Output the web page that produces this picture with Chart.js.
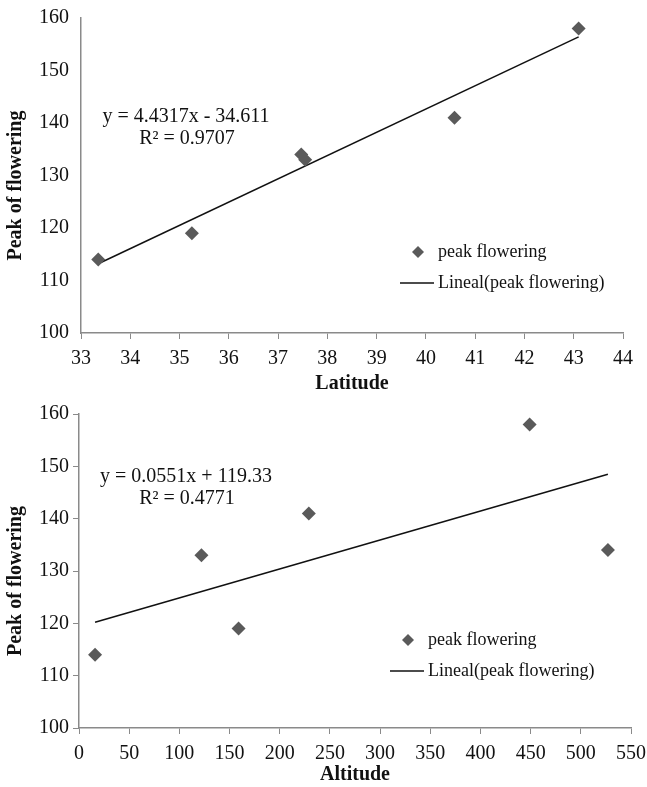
<!DOCTYPE html>
<html>
<head>
<meta charset="utf-8">
<script src="https://cdn.jsdelivr.net/npm/chart.js@4/dist/chart.umd.min.js"></script>
<style>
  body { margin: 0; background: #fff; }
  canvas { display: block; }
</style>
</head>
<body>
<canvas id="graficoLatitud" width="647" height="396"></canvas>
<canvas id="graficoAltitud" width="647" height="391"></canvas>
<script>
// Datos
const latitud = [33.35, 35.25, 37.47, 37.55, 40.58, 43.1];
const altitud = [16, 122, 159, 229, 449, 527];
const picoFloracion = [114, 119, 134, 133, 141, 158];
const picoFloracionAlt = [114, 133, 119, 141, 158, 134];

// Extremos de las lineas de tendencia
const tendLatX = [33.35, 43.1];
const tendLatY = [113.2, 156.4];
const tendAltX = [16, 527];
const tendAltY = [120.2, 148.5];

const ecuacionLat = ['y = 4.4317x - 34.611', 'R\u00B2 = 0.9707'];
const ecuacionAlt = ['y = 0.0551x + 119.33', 'R\u00B2 = 0.4771'];

const nombreSerie = 'peak flowering';
const nombreTend = 'Lineal(peak flowering)';

const FUENTE = '"Liberation Serif", "Times New Roman", serif';
const GRIS_EJE = '#8a8a8a';
const GRIS_PUNTO = '#5a5a5a';

function puntos(xs, ys) {
    return xs.map((x, i) => ({ x: x, y: ys[i] }));
}

// Texto de la ecuacion y leyenda dibujados a mano
function pluginTextos(ecuacion, posEc, posLeyenda) {
    return {
        id: 'textos',
        afterDraw(chart) {
            const ctx = chart.ctx;
            ctx.save();
            ctx.fillStyle = '#111';
            ctx.textBaseline = 'middle';
            ctx.textAlign = 'center';
            ctx.font = '20px ' + FUENTE;
            ctx.fillText(ecuacion[0], posEc[0], posEc[1]);
            ctx.fillText(ecuacion[1], posEc[2], posEc[3]);

            // leyenda
            const lx = posLeyenda[0], ly = posLeyenda[1];
            ctx.fillStyle = GRIS_PUNTO;
            ctx.beginPath();
            ctx.moveTo(lx, ly - 6);
            ctx.lineTo(lx + 6, ly);
            ctx.lineTo(lx, ly + 6);
            ctx.lineTo(lx - 6, ly);
            ctx.closePath();
            ctx.fill();
            ctx.strokeStyle = '#111';
            ctx.lineWidth = 1.5;
            ctx.beginPath();
            ctx.moveTo(lx - 18, ly + 31);
            ctx.lineTo(lx + 16, ly + 31);
            ctx.stroke();
            ctx.fillStyle = '#111';
            ctx.textAlign = 'left';
            ctx.font = '18px ' + FUENTE;
            ctx.fillText(nombreSerie, lx + 20, ly);
            ctx.fillText(nombreTend, lx + 20, ly + 31);
            ctx.restore();
        }
    };
}

function crearGrafico(id, datos, tendencia, cfg) {
    return new Chart(document.getElementById(id), {
        type: 'scatter',
        data: {
            datasets: [{
                label: nombreSerie,
                data: datos,
                pointStyle: 'rectRot',
                pointRadius: 7,
                backgroundColor: GRIS_PUNTO,
                borderColor: GRIS_PUNTO,
                borderWidth: 0
            }, {
                label: nombreTend,
                type: 'line',
                data: tendencia,
                borderColor: '#111',
                borderWidth: 1.5,
                pointRadius: 0,
                fill: false
            }]
        },
        options: {
            responsive: false,
            animation: false,
            layout: { padding: { left: 0, right: cfg.derecha, top: 18, bottom: 0 } },
            plugins: { legend: { display: false }, tooltip: { enabled: false } },
            scales: {
                x: {
                    type: 'linear',
                    min: cfg.xMin,
                    max: cfg.xMax,
                    afterFit: s => {
                        s.height = cfg.altoX;
                        s.paddingRight = 0;
                        s.paddingLeft = 0;
                    },
                    ticks: {
                        stepSize: cfg.paso,
                        color: '#111',
                        font: { family: FUENTE, size: 20 },
                        padding: 8,
                        maxRotation: 0,
                        autoSkip: false
                    },
                    grid: { drawOnChartArea: false, color: GRIS_EJE, tickLength: 6, tickColor: GRIS_EJE },
                    border: { color: GRIS_EJE, width: 1.5 },
                    title: {
                        display: true,
                        text: cfg.tituloX,
                        color: '#111',
                        font: { family: FUENTE, size: 20, weight: 'bold' },
                        padding: { top: 0, bottom: cfg.padTitulo }
                    }
                },
                y: {
                    min: 100,
                    max: 160,
                    afterFit: s => { s.width = cfg.anchoY; },
                    ticks: {
                        stepSize: 10,
                        color: '#111',
                        font: { family: FUENTE, size: 20 },
                        padding: 4
                    },
                    grid: { drawOnChartArea: false, tickLength: cfg.largoTickY, tickColor: cfg.colorTickY },
                    border: { color: GRIS_EJE, width: 1.5 },
                    title: {
                        display: true,
                        text: 'Peak of flowering    ',
                        color: '#111',
                        font: { family: FUENTE, size: 20, weight: 'bold' },
                        padding: { top: 4, bottom: 0 }
                    }
                }
            }
        },
        plugins: [pluginTextos(cfg.ecuacion, cfg.posEc, cfg.posLeyenda)]
    });
}

crearGrafico('graficoLatitud', puntos(latitud, picoFloracion), puntos(tendLatX, tendLatY), {
    xMin: 33, xMax: 44, paso: 1, tituloX: 'Latitude',
    derecha: 24, altoX: 63, anchoY: 81, largoTickY: 8, colorTickY: 'rgba(0,0,0,0)', padTitulo: 0,
    ecuacion: ecuacionLat, posEc: [186, 117, 187, 139], posLeyenda: [418, 252]
});

crearGrafico('graficoAltitud', puntos(altitud, picoFloracionAlt), puntos(tendAltX, tendAltY), {
    xMin: 0, xMax: 550, paso: 50, tituloX: 'Altitude',
    derecha: 16, altoX: 59, anchoY: 79, largoTickY: 6, colorTickY: GRIS_EJE, padTitulo: 0,
    ecuacion: ecuacionAlt, posEc: [186, 81, 187, 103], posLeyenda: [408, 244]
});
</script>
</body>
</html>
